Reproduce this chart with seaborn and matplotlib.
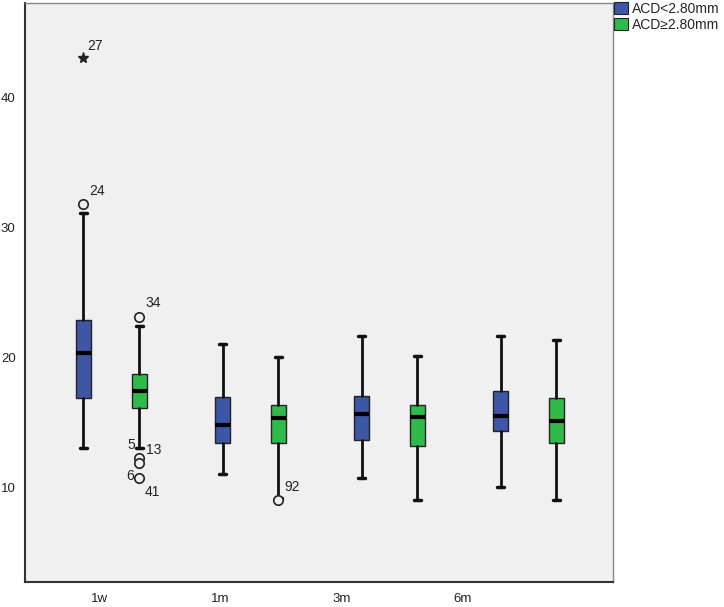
import matplotlib
matplotlib.use('Agg')
import matplotlib.pyplot as plt
from matplotlib.patches import Patch
import seaborn as sns

# time points and groups
times = ['1w', '1m', '3m', '6m']
groups = ['ACD<2.80mm', 'ACD\u22652.80mm']

# box statistics (per group, per time point)
q1 = {'ACD<2.80mm': [16.9, 13.4, 13.6, 14.3],
      'ACD\u22652.80mm': [16.1, 13.4, 13.2, 13.4]}
med = {'ACD<2.80mm': [20.3, 14.8, 15.6, 15.5],
       'ACD\u22652.80mm': [17.4, 15.3, 15.4, 15.1]}
q3 = {'ACD<2.80mm': [22.85, 16.95, 17.05, 17.4],
      'ACD\u22652.80mm': [18.7, 16.3, 16.3, 16.9]}
whislo = {'ACD<2.80mm': [13.0, 11.0, 10.7, 10.0],
          'ACD\u22652.80mm': [13.0, 9.2, 9.0, 9.05]}
whishi = {'ACD<2.80mm': [31.1, 21.0, 21.6, 21.6],
          'ACD\u22652.80mm': [22.4, 20.0, 20.1, 21.3]}

# outliers (circles) and extremes (stars): group, time index, value
out_group = ['ACD<2.80mm', 'ACD\u22652.80mm', 'ACD\u22652.80mm', 'ACD\u22652.80mm',
             'ACD\u22652.80mm', 'ACD\u22652.80mm']
out_time = [0, 0, 0, 0, 0, 1]
out_value = [31.8, 23.1, 12.25, 11.9, 10.7, 9.0]
ext_group = ['ACD<2.80mm']
ext_time = [0]
ext_value = [43.05]

# case labels: text, anchored at outlier, pixel offset
case_text = ['27', '24', '34', '5', '13', '6', '41', '92']
case_anchor = ['e0', 'o0', 'o1', 'o2', 'o2', 'o4', 'o4', 'o5']
case_offset = [(12, 12), (14, 13), (14, 14), (-8, 13), (15, 8), (-9, 2), (13, -14), (14, 13)]

colors = {'ACD<2.80mm': '#3d56a6', 'ACD\u22652.80mm': '#2fbb4a'}
dodge = {'ACD<2.80mm': -0.2, 'ACD\u22652.80mm': 0.2}
bg = '#f0f0f0'

sns.set_style('white')
plt.rcParams['font.family'] = ['Liberation Sans', 'DejaVu Sans']

fig = plt.figure(figsize=(7.24, 6.07), dpi=100)
ax = fig.add_axes([0.0341, 0.0417, 0.8126, 0.9529])
ax.set_facecolor(bg)

for g in groups:
    stats = []
    for i in range(len(times)):
        stats.append({'q1': q1[g][i], 'med': med[g][i], 'q3': q3[g][i],
                      'whislo': whislo[g][i], 'whishi': whishi[g][i], 'fliers': []})
    pos = [i + dodge[g] for i in range(len(times))]
    ax.bxp(stats, positions=pos, widths=0.108, capwidths=0.05, patch_artist=True,
           showfliers=False,
           boxprops=dict(facecolor=colors[g], edgecolor='#222222', linewidth=1.0),
           medianprops=dict(color='black', linewidth=3, solid_capstyle='butt'),
           whiskerprops=dict(color='#111111', linewidth=2),
           capprops=dict(color='#111111', linewidth=2.5))

# outlier circles and extreme stars
pts = {}
for k, (g, t, v) in enumerate(zip(out_group, out_time, out_value)):
    x = t + dodge[g]
    ax.plot(x, v, marker='o', markersize=6.8, markerfacecolor=bg,
            markeredgecolor='#222222', markeredgewidth=1.2, zorder=5)
    pts['o%d' % k] = (x, v)
for k, (g, t, v) in enumerate(zip(ext_group, ext_time, ext_value)):
    x = t + dodge[g]
    ax.plot(x, v, marker='*', markersize=8, color='#222222', zorder=5)
    pts['e%d' % k] = (x, v)

for txt, anc, off in zip(case_text, case_anchor, case_offset):
    ax.annotate(txt, xy=pts[anc], xytext=off, textcoords='offset pixels',
                ha='center', va='center', fontsize=10, color='#222222')

ax.set_xlim(-0.623, 3.609)
ax.set_ylim(2.74, 47.23)
ax.set_xticks([-0.086, 0.782, 1.658, 2.525])
ax.set_xticklabels(times)
ax.set_yticks([10, 20, 30, 40])
ax.tick_params(axis='both', direction='out', length=5.5, width=1.5, color='#333333',
               labelsize=9.5, labelcolor='#222222', pad=1)
ax.tick_params(axis='x', pad=3)

for s in ['left', 'bottom']:
    ax.spines[s].set_color('#333333')
    ax.spines[s].set_linewidth(1.5)
for s in ['top', 'right']:
    ax.spines[s].set_color('#888888')
    ax.spines[s].set_linewidth(1.0)

handles = [Patch(facecolor=colors[g], edgecolor='#222222', linewidth=0.8) for g in groups]
fig.legend(handles, groups, loc='upper left', bbox_to_anchor=(0.848, 0.997),
           frameon=False, fontsize=10, handlelength=1.0, handleheight=0.9,
           handletextpad=0.3, labelspacing=0.15, borderpad=0, borderaxespad=0)

plt.savefig('out.png', dpi=100, facecolor='white')
